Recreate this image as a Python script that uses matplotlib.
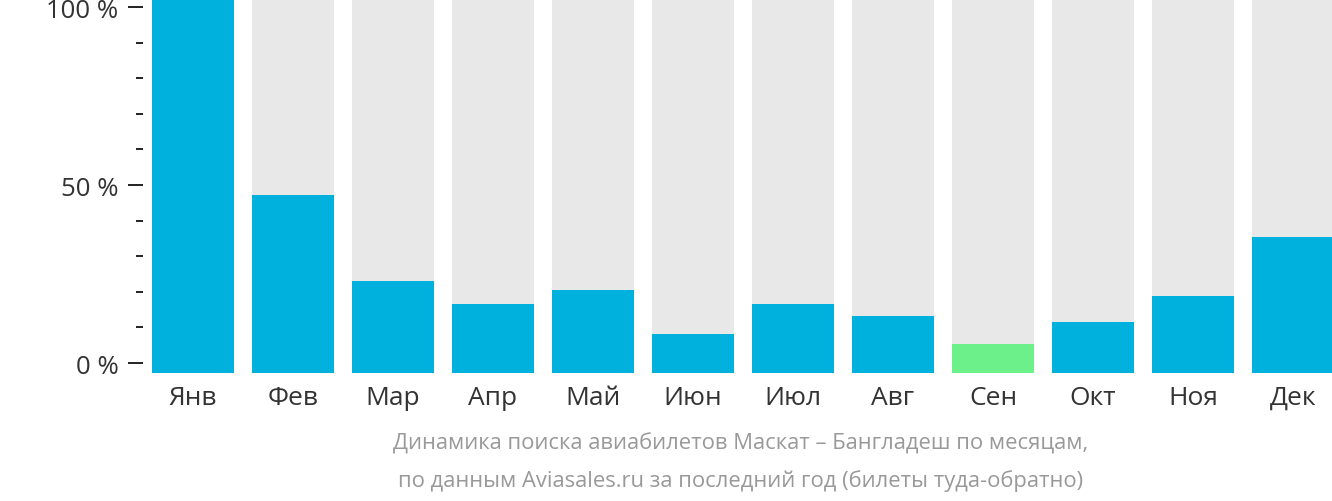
import matplotlib.pyplot as plt
import numpy as np
import matplotlib as mpl

mpl.rcParams.update({
    'font.family': ['Open Sans', 'DejaVu Sans'],
    'font.size': 18,
})

# Monthly search share (%)
months = ['Янв', 'Фев', 'Мар', 'Апр', 'Май', 'Июн',
          'Июл', 'Авг', 'Сен', 'Окт', 'Ноя', 'Дек']
values = [100, 47.6, 24.6, 18.4, 22.2, 10.4, 18.4, 15.2, 7.8, 13.6, 20.6, 36.4]
tick_labels = ['0 %', '50 %', '100 %']

blue = '#00b0dd'
green = '#6cf18a'
bg = '#e8e8e8'

W, H = 1332, 502
fig = plt.figure(figsize=(W / 100, H / 100), dpi=100)
# axes: x from 143 px to right edge, y from top to 374 px
ax = fig.add_axes([143 / W, 1 - 374 / H, (W - 143) / W, 374 / H])

x = np.arange(len(months))
colors = [green if v == min(values) else blue for v in values]
ax.bar(x, [100] * len(x), width=0.82, color=bg, linewidth=0)
ax.bar(x, values, width=0.82, color=colors, linewidth=0)

ax.set_xlim(-0.5, (W - 193) / 100)
ax.set_ylim(0, 100)

# y ticks: 0 % sits a little above the bar baseline
def tick_pos(t):
    return (10 + 3.56 * t) / 3.74

major = [0, 50, 100]
minor = [t for t in range(10, 100, 10) if t != 50]
ax.set_yticks([tick_pos(t) for t in major])
ax.set_yticklabels(tick_labels)
ax.set_yticks([tick_pos(t) for t in minor], minor=True)
ax.tick_params(axis='y', which='major', length=10.8, width=1.4, color='#222222',
               pad=7, labelcolor='#333333', labelsize=18.5)
ax.tick_params(axis='y', which='minor', length=5, width=1.4, color='#222222')

ax.set_xticks(x)
ax.set_xticklabels(months)
ax.tick_params(axis='x', length=0, pad=8.5, labelcolor='#333333', labelsize=19)

for s in ax.spines.values():
    s.set_visible(False)

fig.text(741 / W, 1 - 444 / H,
         'Динамика поиска авиабилетов Маскат – Бангладеш по месяцам,',
         ha='center', va='center', color='#999999', fontsize=15.8)
fig.text(741 / W, 1 - 481 / H,
         'по данным Aviasales.ru за последний год (билеты туда-обратно)',
         ha='center', va='center', color='#999999', fontsize=15.8)

plt.savefig('out.png', dpi=100)
plt.close()
